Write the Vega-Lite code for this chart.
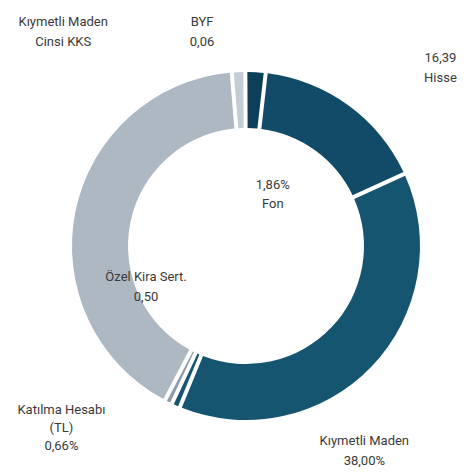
{
  "$schema": "https://vega.github.io/schema/vega-lite/v6.json",
  "width": 444,
  "height": 458,
  "autosize": {"type": "none"},
  "padding": {"left": 24, "top": 17, "right": 0, "bottom": 0},
  "background": "white",
  "config": {
    "view": {"stroke": null},
    "text": {"font": "Roboto", "fontSize": 13, "color": "#3a3a3a"}
  },
  "data": {
    "values": [
      {"category": "BYF", "share": 1.25, "order": 1, "label": "BYF\n0,06"},
      {"category": "Fon", "share": 1.86, "order": 2, "label": "1,86%\nFon"},
      {"category": "Hisse", "share": 16.39, "order": 3, "label": "16,39\nHisse"},
      {"category": "Kıymetli Maden", "share": 38.0, "order": 4, "label": "Kıymetli Maden\n38,00%"},
      {"category": "Katılma Hesabı (TL)", "share": 0.8, "order": 5, "label": "Katılma Hesabı\n(TL)\n0,66%"},
      {"category": "Özel Kira Sert.", "share": 0.7, "order": 6, "label": "Özel Kira Sert.\n0,50"},
      {"category": "Kıymetli Maden Cinsi KKS", "share": 41.0, "order": 7, "label": "Kıymetli Maden\nCinsi KKS"}
    ]
  },
  "encoding": {
    "theta": {"field": "share", "type": "quantitative", "stack": true, "scale": {"range": [-0.082, 6.2012]}},
    "order": {"field": "order", "type": "quantitative"}
  },
  "layer": [
    {
      "mark": {"type": "arc", "innerRadius": 118, "outerRadius": 174, "padAngle": 0.019},
      "encoding": {
        "color": {
          "field": "category",
          "type": "nominal",
          "legend": null,
          "scale": {
            "domain": ["BYF", "Fon", "Hisse", "Kıymetli Maden", "Katılma Hesabı (TL)", "Özel Kira Sert.", "Kıymetli Maden Cinsi KKS"],
            "range": ["#c5ccd3", "#0e3f58", "#114b68", "#155570", "#155570", "#8d9baa", "#aeb8c2"]
          }
        }
      }
    },
    {
      "mark": {"type": "text", "radius": 210, "dx": 23, "dy": -182, "lineBreak": "\n", "align": "center", "baseline": "middle", "lineHeight": 20},
      "encoding": {"text": {"condition": {"test": "datum.category === 'Kıymetli Maden Cinsi KKS'", "field": "label", "type": "nominal"}, "value": ""}}
    },
    {
      "mark": {"type": "text", "radius": 210, "dx": -35, "dy": -14, "lineBreak": "\n", "align": "center", "baseline": "middle", "lineHeight": 20},
      "encoding": {"text": {"condition": {"test": "datum.category === 'BYF'", "field": "label", "type": "nominal"}, "value": ""}}
    },
    {
      "mark": {"type": "text", "radius": 210, "dx": 71, "dy": -18, "lineBreak": "\n", "align": "center", "baseline": "middle", "lineHeight": 20},
      "encoding": {"text": {"condition": {"test": "datum.category === 'Hisse'", "field": "label", "type": "nominal"}, "value": ""}}
    },
    {
      "mark": {"type": "text", "radius": 50, "dx": 24, "dy": -11, "lineBreak": "\n", "align": "center", "baseline": "middle", "lineHeight": 19},
      "encoding": {"text": {"condition": {"test": "datum.category === 'Fon'", "field": "label", "type": "nominal"}, "value": ""}}
    },
    {
      "mark": {"type": "text", "radius": 110, "dx": -51, "dy": -67, "lineBreak": "\n", "align": "center", "baseline": "middle", "lineHeight": 20},
      "encoding": {"text": {"condition": {"test": "datum.category === 'Özel Kira Sert.'", "field": "label", "type": "nominal"}, "value": ""}}
    },
    {
      "mark": {"type": "text", "radius": 210, "dx": -100, "dy": -28, "lineBreak": "\n", "align": "center", "baseline": "middle", "lineHeight": 18},
      "encoding": {"text": {"condition": {"test": "datum.category === 'Katılma Hesabı (TL)'", "field": "label", "type": "nominal"}, "value": ""}}
    },
    {
      "mark": {"type": "text", "radius": 210, "dx": -33, "dy": 49, "lineBreak": "\n", "align": "center", "baseline": "middle", "lineHeight": 20},
      "encoding": {"text": {"condition": {"test": "datum.category === 'Kıymetli Maden'", "field": "label", "type": "nominal"}, "value": ""}}
    }
  ]
}
